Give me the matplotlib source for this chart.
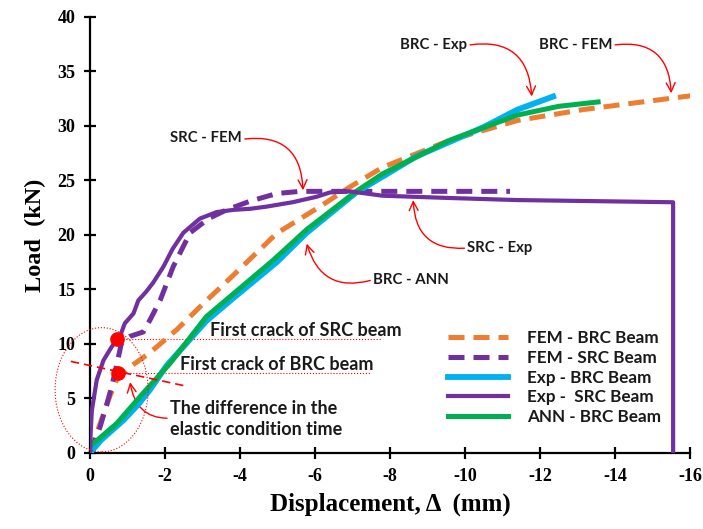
import numpy as np
import matplotlib
matplotlib.use("Agg")
import matplotlib.pyplot as plt
from matplotlib.patches import Ellipse

plt.rcParams['axes.unicode_minus'] = False

# curves (displacement in mm, load in kN)
fem_brc_x = [0, -0.27, -0.53, -0.71, -1.07, -1.6, -2.31, -3.02, -3.82, -4.98, -6.13, -6.93, -7.8, -9.6, -11.4, -13.15, -14.5, -16.1]
fem_brc_y = [0, 2.7, 5.2, 6.7, 7.9, 9.2, 11.3, 13.7, 16.3, 20.15, 22.6, 24.4, 26.2, 28.7, 30.5, 31.5, 32.1, 32.8]

fem_src_x = [0, -0.1, -0.27, -0.45, -0.58, -0.72, -0.84, -1.07, -1.42, -1.6, -1.87, -2.22, -2.67, -3.16, -3.64, -4.27, -4.98, -5.6, -7.0, -9.0, -11.2]
fem_src_y = [0, 0.8, 2.4, 4.5, 6.1, 8.2, 10.1, 10.7, 11.1, 12.2, 14.0, 17.1, 20.2, 21.5, 22.3, 23.1, 23.8, 24.0, 24.0, 24.0, 24.0]

exp_brc_x = [0, -0.3, -0.89, -1.3, -1.6, -2.04, -3.1, -3.82, -4.98, -5.78, -7.1, -8.7, -10.5, -11.4, -12.35]
exp_brc_y = [0, 1.2, 3.0, 4.5, 5.8, 8.0, 12.1, 14.2, 17.5, 20.2, 23.9, 27.2, 29.9, 31.5, 32.7]

exp_src_x = [0, -0.02, -0.05, -0.18, -0.36, -0.58, -0.8, -0.93, -1.16, -1.29, -1.5, -1.68, -1.96, -2.2, -2.49, -2.93, -3.38, -3.82, -4.27, -4.71, -5.4, -6.04, -6.4, -6.93, -7.8, -9.5, -11.4, -13.5, -15.55, -15.55]
exp_src_y = [0, 2.0, 3.9, 6.7, 8.5, 9.75, 10.7, 11.9, 12.8, 14.0, 14.8, 15.6, 17.1, 18.7, 20.2, 21.5, 22.1, 22.3, 22.4, 22.6, 23.0, 23.5, 23.9, 24.0, 23.6, 23.4, 23.2, 23.1, 23.0, 0]

ann_brc_x = [0, -0.71, -1.42, -2.13, -3.1, -4.89, -5.78, -7.1, -7.8, -9.6, -11.4, -12.5, -13.55]
ann_brc_y = [0.6, 2.7, 5.5, 8.2, 12.5, 17.7, 20.5, 24.0, 25.6, 28.7, 31.0, 31.8, 32.2]

crack_x = [-0.72, -0.74]
crack_y = [10.45, 7.3]

x_ticks = [0, -2, -4, -6, -8, -10, -12, -14, -16]
y_ticks = [0, 5, 10, 15, 20, 25, 30, 35, 40]

orange = '#ED7D31'
purple = '#7030A0'
blue = '#00B0F0'
green = '#00B050'
red = '#FF0000'

serif = 'Liberation Serif'
sans = 'Lato'

fig = plt.figure(figsize=(7.03, 5.29), dpi=100)
ax = fig.add_axes([0.128, 0.1437, 0.8535, 0.8243])

ax.plot(fem_brc_x, fem_brc_y, color=orange, lw=3.6, ls=(0, (3.2, 1.8)), label='FEM - BRC Beam', zorder=3)
ax.plot(fem_src_x, fem_src_y, color=purple, lw=3.6, ls=(0, (3.2, 1.8)), label='FEM - SRC Beam', zorder=3)
ax.plot(exp_brc_x, exp_brc_y, color=blue, lw=4.2, label='Exp - BRC Beam', zorder=4)
ax.plot(exp_src_x, exp_src_y, color=purple, lw=3.0, label='Exp -  SRC Beam', zorder=5)
ax.plot(ann_brc_x, ann_brc_y, color=green, lw=3.6, label='ANN - BRC Beam', zorder=4)

# first crack markers and guide lines
ax.plot(crack_x, crack_y, 'o', color=red, ms=9.5, zorder=7)
ax.plot([crack_x[0], -7.8], [crack_y[0], crack_y[0]], color=red, lw=0.8, ls=':', zorder=2)
ax.plot([crack_x[1], -7.5], [crack_y[1], crack_y[1]], color=red, lw=0.8, ls=':', zorder=2)
ax.plot([0.51, -2.61], [8.4, 6.1], color=red, lw=1.2, ls=(0, (5, 3)), clip_on=False, zorder=6)
ax.add_patch(Ellipse((-0.31, 5.8), 2.48, 11.4, fill=False, ec=red, lw=0.8, ls=':', clip_on=False, zorder=6))

tfont = dict(family=sans, weight='bold', fontsize=13, color='#1a1a1a')
ax.text(-3.2, 10.45, 'First crack of SRC beam', ha='left', va='bottom', **tfont)
ax.text(-2.4, 7.35, 'First crack of BRC beam', ha='left', va='bottom', **tfont)

ap = dict(arrowstyle='->', color=red, lw=1.0, shrinkA=0, shrinkB=0, mutation_scale=16)
ax.annotate('The difference in the\nelastic condition time', xy=(-1.07, 6.5), xytext=(-2.13, 3.1),
            ha='left', va='center', linespacing=1.25,
            arrowprops=dict(ap, connectionstyle='arc3,rad=-0.5', relpos=(0.05, 0.55)), **tfont)

lfont = dict(family=sans, weight='bold', fontsize=10.7, color='#1a1a1a')
ax.annotate('SRC - FEM', xy=(-5.68, 24.1), xytext=(-3.1, 28.9), ha='center', va='center',
            arrowprops=dict(ap, connectionstyle='arc3,rad=-0.55', relpos=(1.0, 0.4)), **lfont)
ax.annotate('BRC - Exp', xy=(-11.78, 32.7), xytext=(-9.17, 37.4), ha='center', va='center',
            arrowprops=dict(ap, connectionstyle='arc3,rad=-0.55', relpos=(1.0, 0.5)), **lfont)
ax.annotate('BRC - FEM', xy=(-15.5, 33.0), xytext=(-12.95, 37.4), ha='center', va='center',
            arrowprops=dict(ap, connectionstyle='arc3,rad=-0.55', relpos=(1.0, 0.5)), **lfont)
ax.annotate('SRC - Exp', xy=(-8.62, 23.2), xytext=(-10.93, 18.8), ha='center', va='center',
            arrowprops=dict(ap, connectionstyle='arc3,rad=-0.52', relpos=(0.0, 0.5)), **lfont)
ax.annotate('BRC - ANN', xy=(-5.78, 19.2), xytext=(-8.56, 15.9), ha='center', va='center',
            arrowprops=dict(ap, connectionstyle='arc3,rad=-0.5', relpos=(0.0, 0.5)), **lfont)

ax.set_xlim(0, -16)
ax.set_ylim(0, 40)
ax.set_xticks(x_ticks)
ax.set_yticks(y_ticks)
for s in ['top', 'right']:
    ax.spines[s].set_visible(False)
for s in ['left', 'bottom']:
    ax.spines[s].set_linewidth(1.6)
ax.tick_params(direction='inout', length=9, width=1.6, pad=6)
for lab in ax.get_xticklabels() + ax.get_yticklabels():
    lab.set_fontfamily(serif)
    lab.set_fontweight('bold')
    lab.set_fontsize(13)

ax.set_xlabel('Displacement, Δ  (mm)', family=serif, weight='bold', fontsize=18, labelpad=6)
ax.set_ylabel('Load  (kN)', family=serif, weight='bold', fontsize=17.5, labelpad=8)

leg = ax.legend(loc='upper left', bbox_to_anchor=(0.597, 0.282), frameon=False,
                borderpad=0, borderaxespad=0, handlelength=3.5, handletextpad=1.1,
                labelspacing=0.22, prop=dict(family=sans, weight='bold', size=12.3))
for t in leg.get_texts():
    t.set_color('#1a1a1a')

fig.savefig('out.png', dpi=100)
